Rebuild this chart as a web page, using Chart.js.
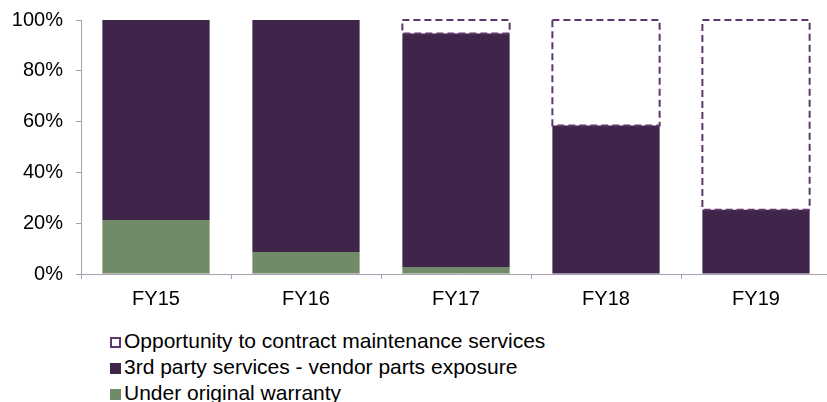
<!DOCTYPE html>
<html>
<head>
<meta charset="utf-8">
<script src="https://cdn.jsdelivr.net/npm/chart.js@4"></script>
<style>
  html, body { margin: 0; padding: 0; background: #fff; overflow: hidden; }
  #wrap { position: relative; width: 831px; height: 311px; }
  #legend { position: absolute; left: 110px; top: 328px; font-family: "Liberation Sans", Arial, sans-serif; font-size: 21px; color: #000; }
  #legend div { height: 26px; line-height: 26px; white-space: nowrap; }
  #legend span.box { display: inline-block; width: 11px; height: 11px; margin-right: 3px; vertical-align: 0px; box-sizing: border-box; }
</style>
</head>
<body>
<div id="wrap"><canvas id="chart"></canvas></div>
<div id="legend"></div>
<script>
var years = ['FY15', 'FY16', 'FY17', 'FY18', 'FY19'];
var underWarranty = [21.3, 8.7, 2.8, 0, 0];
var thirdParty = [78.7, 91.3, 91.9, 58.5, 25.3];
var opportunity = [0, 0, 5.3, 41.5, 74.7];
var yTicks = [0, 20, 40, 60, 80, 100];

var green = '#718a67';
var purple = '#3f2549';
var dashColor = '#5e376c';
var axisColor = '#a89db1';

// bar elements can't do dashed borders, so stroke the opportunity bars here
var dashedBars = {
  id: 'dashedBars',
  afterDatasetsDraw: function(chart) {
    var meta = chart.getDatasetMeta(2);
    var ctx = chart.ctx;
    ctx.save();
    ctx.strokeStyle = dashColor;
    ctx.lineWidth = 2;
    ctx.setLineDash([7, 4]);
    meta.data.forEach(function(bar, i) {
      if (!opportunity[i]) return;
      var p = bar.getProps(['x', 'y', 'base', 'width'], true);
      ctx.strokeRect(p.x - p.width / 2, p.y, p.width, p.base - p.y);
    });
    ctx.restore();
  }
};

var ctx = document.getElementById('chart').getContext('2d');
window.fyChart = new Chart(ctx, {
  type: 'bar',
  data: {
    labels: years,
    datasets: [
      { label: 'Under original warranty', data: underWarranty, backgroundColor: green, borderWidth: 0 },
      { label: '3rd party services - vendor parts exposure', data: thirdParty, backgroundColor: purple, borderWidth: 0 },
      { label: 'Opportunity to contract maintenance services', data: opportunity, backgroundColor: 'rgba(0,0,0,0)', borderWidth: 0 }
    ]
  },
  options: {
    responsive: true,
    maintainAspectRatio: false,
    animation: false,
    layout: { padding: { top: 20, right: 0, left: 0, bottom: 0 } },
    datasets: { bar: { categoryPercentage: 1, barPercentage: 0.715 } },
    scales: {
      x: {
        stacked: true,
        offset: true,
        grid: { offset: true, drawOnChartArea: false, drawTicks: true, tickLength: 5, color: axisColor },
        border: { color: axisColor, width: 1 },
        ticks: { color: '#000', padding: 8, font: { family: '"Liberation Sans", Arial', size: 20 } },
        afterFit: function(scale) { scale.height = 37; scale.paddingLeft = 0; scale.paddingRight = 0; }
      },
      y: {
        stacked: true,
        min: 0,
        max: 100,
        afterBuildTicks: function(scale) { scale.ticks = yTicks.map(function(v) { return { value: v }; }); },
        grid: { drawOnChartArea: false, drawTicks: true, tickLength: 5, color: axisColor },
        border: { color: axisColor, width: 1 },
        ticks: {
          color: '#000',
          padding: 13,
          font: { family: '"Liberation Sans", Arial', size: 20 },
          callback: function(v) { return v + '%'; }
        },
        afterFit: function(scale) { scale.width = 81; scale.paddingTop = 0; scale.paddingBottom = 0; }
      }
    },
    plugins: {
      legend: { display: false },
      tooltip: { enabled: false }
    }
  },
  plugins: [dashedBars]
});

// legend is stacked vertically, opportunity first
var legendItems = [
  { text: 'Opportunity to contract maintenance services', style: 'border: 2px dashed ' + dashColor + ';' },
  { text: '3rd party services - vendor parts exposure', style: 'background:' + purple + ';' },
  { text: 'Under original warranty', style: 'background:' + green + ';' }
];
var html = '';
legendItems.forEach(function(l) {
  html += '<div><span class="box" style="' + l.style + '"></span>' + l.text + '</div>';
});
document.getElementById('legend').innerHTML = html;
</script>
</body>
</html>
